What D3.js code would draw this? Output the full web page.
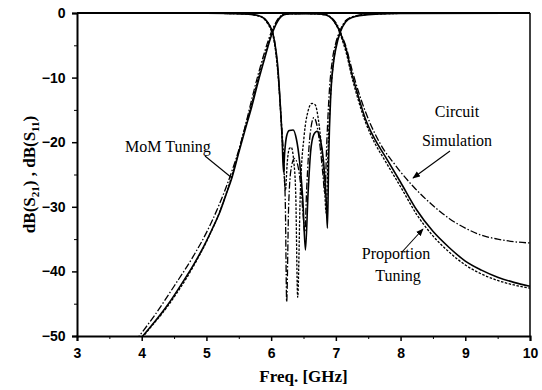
<!DOCTYPE html>
<html><head><meta charset="utf-8">
<script src="https://cdn.jsdelivr.net/npm/d3@7"></script>
<style>body{margin:0;background:#fff}svg{display:block}</style>
</head><body><svg id="chart" width="542" height="390"></svg>
<script>
// Axis ticks
const xTicks = [3, 4, 5, 6, 7, 8, 9, 10];
const yTicks = [0, -10, -20, -30, -40, -50];

// MoM tuning (solid): [freq GHz, dB]
const momS21 = [[3.9,-51.5],[4.0,-50.2],[4.2,-47.8],[4.4,-45.2],[4.6,-42.2],[4.8,-39.0],[5.0,-35.3],[5.1,-33.2],[5.2,-31.0],[5.3,-28.2],[5.4,-25.3],[5.5,-21.6],[5.6,-18.0],[5.7,-14.5],[5.8,-10.6],[5.9,-7.0],[6.0,-3.6],[6.05,-2.3],[6.1,-1.3],[6.15,-0.6],[6.2,-0.25],[6.3,-0.1],[6.5,-0.1],[6.7,-0.1],[6.85,-0.3],[6.95,-1.0],[7.0,-1.7],[7.05,-2.6],[7.1,-3.9],[7.15,-5.3],[7.25,-9.5],[7.35,-13.0],[7.45,-16.2],[7.6,-19.5],[7.75,-22.0],[8.0,-26.2],[8.25,-30.5],[8.5,-33.8],[8.75,-36.3],[9.0,-38.4],[9.25,-39.8],[9.5,-40.9],[9.75,-41.7],[10,-42.3]];
const momS11 = [[3,0],[5,-0.05],[5.6,-0.15],[5.8,-0.4],[5.9,-0.9],[5.95,-1.5],[6.0,-2.4],[6.03,-3.3],[6.07,-5.5],[6.1,-8],[6.14,-14],[6.17,-19.5],[6.19,-24.6],[6.21,-21.5],[6.24,-19],[6.28,-18.2],[6.34,-18.1],[6.39,-19.5],[6.44,-23],[6.49,-29],[6.53,-36.7],[6.57,-28],[6.61,-21.5],[6.66,-18.8],[6.71,-18.3],[6.76,-19.5],[6.81,-23],[6.85,-29],[6.87,-33.3],[6.89,-22],[6.92,-13],[6.96,-8],[7.0,-5.5],[7.07,-2.9],[7.15,-1.4],[7.25,-0.7],[7.5,-0.25],[8,-0.08],[10,0]];

// Proportion tuning (dashed)
const propS21 = [[3.9,-51.8],[4.0,-50.4],[4.4,-45.4],[4.8,-39.2],[5.0,-35.4],[5.2,-30.9],[5.4,-25.0],[5.6,-17.6],[5.7,-14.0],[5.8,-10.2],[5.9,-6.6],[6.0,-3.3],[6.05,-2.1],[6.1,-1.1],[6.15,-0.5],[6.2,-0.2],[6.5,-0.1],[6.85,-0.3],[6.95,-1.0],[7.0,-1.8],[7.05,-2.8],[7.1,-4.2],[7.15,-5.8],[7.25,-10.0],[7.35,-13.6],[7.45,-16.7],[7.6,-20.1],[7.75,-22.7],[8.0,-26.9],[8.25,-31.2],[8.5,-34.5],[8.75,-37.0],[9.0,-39.0],[9.25,-40.4],[9.5,-41.4],[9.75,-42.1],[10,-42.6]];
const propS11 = [[3,0],[5,-0.05],[5.6,-0.15],[5.8,-0.45],[5.9,-1.0],[5.95,-1.7],[6.0,-2.7],[6.03,-3.6],[6.07,-6],[6.11,-10],[6.15,-16],[6.19,-23],[6.22,-27.5],[6.25,-23],[6.28,-21],[6.31,-20.8],[6.35,-23],[6.38,-28],[6.41,-44],[6.45,-28],[6.51,-19],[6.57,-15.2],[6.63,-14.0],[6.68,-14.2],[6.73,-16.5],[6.78,-21],[6.82,-26],[6.85,-31],[6.88,-21],[6.92,-12.5],[6.96,-7.8],[7.0,-5.2],[7.07,-2.8],[7.15,-1.3],[7.25,-0.65],[7.5,-0.22],[8,-0.07],[10,0]];

// Circuit simulation (dash-dot)
const circS21 = [[3.9,-50.8],[4.0,-49.5],[4.2,-46.8],[4.5,-42.3],[4.8,-37.6],[5.0,-34.0],[5.2,-29.6],[5.4,-24.3],[5.5,-21.2],[5.6,-17.5],[5.7,-13.4],[5.8,-9.5],[5.9,-6.0],[6.0,-3.0],[6.05,-1.9],[6.1,-1.0],[6.15,-0.45],[6.2,-0.2],[6.5,-0.1],[6.85,-0.25],[6.95,-0.9],[7.0,-1.5],[7.05,-2.4],[7.1,-3.7],[7.15,-5.0],[7.25,-8.8],[7.35,-12.2],[7.45,-15.1],[7.6,-18.6],[7.75,-21.3],[7.9,-23.3],[8.0,-24.6],[8.2,-26.9],[8.5,-29.8],[8.75,-31.8],[9.0,-33.3],[9.25,-34.4],[9.5,-35.0],[9.75,-35.4],[10,-35.6]];
const circS11 = [[3,0],[5,-0.05],[5.6,-0.15],[5.8,-0.4],[5.9,-0.9],[5.95,-1.5],[6.0,-2.4],[6.04,-3.6],[6.08,-6.5],[6.12,-11],[6.16,-17],[6.2,-24],[6.22,-30],[6.24,-44.7],[6.27,-30],[6.31,-24],[6.36,-22.5],[6.41,-23.5],[6.46,-27],[6.5,-32],[6.52,-34],[6.55,-27],[6.6,-19],[6.66,-16.2],[6.71,-17.5],[6.76,-21],[6.8,-25],[6.83,-28],[6.86,-20],[6.9,-12],[6.95,-7],[7.0,-4.6],[7.07,-2.6],[7.15,-1.2],[7.25,-0.6],[7.5,-0.2],[8,-0.06],[10,0]];

const svg = d3.select("#chart");
const W = 542, H = 390;
const m = {left: 77, right: 12, top: 13, bottom: 54};

const x = d3.scaleLinear().domain([3, 10]).range([m.left, W - m.right]);
const y = d3.scaleLinear().domain([-50, 0]).range([H - m.bottom, m.top]);

svg.append("defs").append("clipPath").attr("id", "plotclip")
  .append("rect").attr("x", m.left).attr("y", m.top - 2)
  .attr("width", W - m.left - m.right).attr("height", H - m.top - m.bottom + 2);

svg.append("defs").append("marker").attr("id", "arrow")
  .attr("viewBox", "0 0 10 10").attr("refX", 9).attr("refY", 5)
  .attr("markerWidth", 7).attr("markerHeight", 7).attr("orient", "auto")
  .append("path").attr("d", "M0,1 L10,5 L0,9 Z").attr("fill", "#000");

// Curves
const line = d3.line().x(d => x(d[0])).y(d => y(d[1])).curve(d3.curveMonotoneX);
const curves = svg.append("g").attr("clip-path", "url(#plotclip)").attr("fill", "none").attr("stroke", "#000");
const styles = [
  {data: circS21, dash: "7,2,1.5,2", w: 1.3},
  {data: circS11, dash: "7,2,1.5,2", w: 1.3},
  {data: propS21, dash: "2.5,1.5", w: 1.3},
  {data: propS11, dash: "2.5,1.5", w: 1.3},
  {data: momS21, dash: null, w: 1.6},
  {data: momS11, dash: null, w: 1.6}
];
styles.forEach(s => {
  curves.append("path").attr("d", line(s.data))
    .attr("stroke-width", s.w).attr("stroke-dasharray", s.dash);
});

// Axes
const tickFont = "bold 14px 'Liberation Sans', Arial, sans-serif";
const xAxis = d3.axisBottom(x).tickValues(xTicks).tickSize(5).tickFormat(d3.format("d"));
const gx = svg.append("g").attr("transform", `translate(0,${H - m.bottom})`).call(xAxis);
const xMinor = d3.axisBottom(x).tickValues(d3.range(3.5, 10, 1)).tickSize(3).tickFormat("");
svg.append("g").attr("transform", `translate(0,${H - m.bottom})`).call(xMinor).select(".domain").remove();

const yAxis = d3.axisLeft(y).tickValues(yTicks).tickSize(5).tickFormat(d3.format("d"));
const gy = svg.append("g").attr("transform", `translate(${m.left},0)`).call(yAxis);
const yMinor = d3.axisLeft(y).tickValues(d3.range(-45, 0, 10)).tickSize(3).tickFormat("");
svg.append("g").attr("transform", `translate(${m.left},0)`).call(yMinor).select(".domain").remove();

[gx, gy].forEach(g => {
  g.select(".domain").attr("stroke-width", 2);
  g.selectAll(".tick line").attr("stroke-width", 1.5);
  g.selectAll(".tick text").style("font", tickFont).attr("fill", "#000");
});
gx.selectAll(".tick text").attr("dy", "1.0em");
gy.selectAll(".tick text").attr("dx", "-0.25em");

// Frame: top and right
svg.append("line").attr("x1", m.left).attr("x2", W - m.right).attr("y1", m.top).attr("y2", m.top)
  .attr("stroke", "#000").attr("stroke-width", 2);
svg.append("line").attr("x1", W - m.right).attr("x2", W - m.right).attr("y1", m.top).attr("y2", H - m.bottom)
  .attr("stroke", "#000").attr("stroke-width", 1.5);

// Axis titles
const serifBold = "'Liberation Serif', 'Times New Roman', serif";
svg.append("text").attr("x", x(6.5)).attr("y", 382).attr("text-anchor", "middle")
  .style("font-family", serifBold).style("font-weight", "bold").style("font-size", "17px")
  .text("Freq. [GHz]");

const yt = svg.append("text").attr("transform", `translate(35,${y(-25)}) rotate(-90)`)
  .attr("text-anchor", "middle")
  .style("font-family", serifBold).style("font-weight", "bold").style("font-size", "17px");
yt.append("tspan").text("dB(S");
yt.append("tspan").attr("dy", 4).style("font-size", "11px").text("21");
yt.append("tspan").attr("dy", -4).text(") , dB(S");
yt.append("tspan").attr("dy", 4).style("font-size", "11px").text("11");
yt.append("tspan").attr("dy", -4).text(")");

// Annotations
const ann = svg.append("g").style("font-family", serifBold).style("font-size", "16px").attr("fill", "#000");
ann.append("text").attr("x", 125).attr("y", 152).text("MoM Tuning");
ann.append("text").attr("x", 457).attr("y", 117).attr("text-anchor", "middle").text("Circuit");
ann.append("text").attr("x", 457).attr("y", 146).attr("text-anchor", "middle").text("Simulation");
ann.append("text").attr("x", 396).attr("y", 259).attr("text-anchor", "middle").text("Proportion");
ann.append("text").attr("x", 398).attr("y", 281).attr("text-anchor", "middle").text("Tuning");

// Pointer lines
const ptr = svg.append("g").attr("stroke", "#000").attr("stroke-width", 1.1);
ptr.append("line").attr("x1", 205).attr("y1", 156).attr("x2", 232).attr("y2", 178);
ptr.append("line").attr("x1", 450).attr("y1", 151).attr("x2", 413).attr("y2", 178).attr("marker-end", "url(#arrow)");
ptr.append("line").attr("x1", 402).attr("y1", 252).attr("x2", 423).attr("y2", 229).attr("marker-end", "url(#arrow)");
</script>
</body></html>
